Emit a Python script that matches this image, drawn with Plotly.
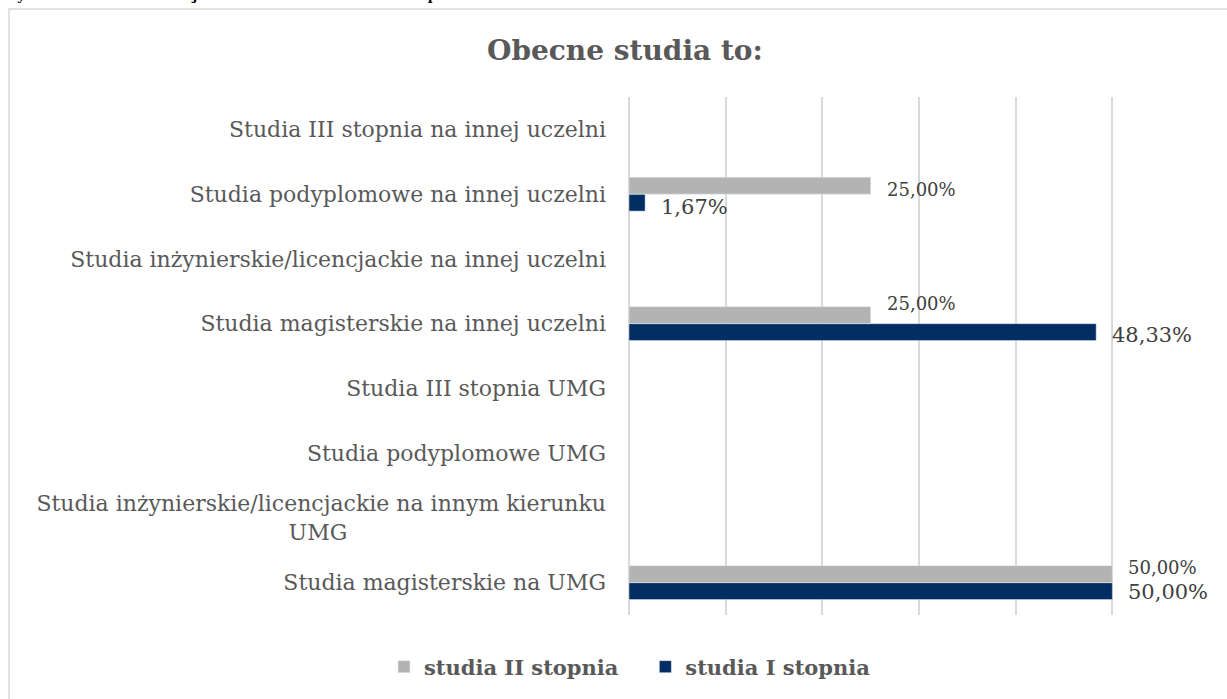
import plotly.graph_objects as go

# ---------------- data ----------------
NB = "\u00a0"
categories = [
    "Studia magisterskie na UMG",
    "Studia inżynierskie/licencjackie na innym kierunku<br>UMG" + NB * 37,
    "Studia podyplomowe UMG",
    "Studia III stopnia UMG",
    "Studia magisterskie na innej uczelni",
    "Studia inżynierskie/licencjackie na innej uczelni",
    "Studia podyplomowe na innej uczelni",
    "Studia III stopnia na innej uczelni",
]
series_II_name = "studia II stopnia"
series_I_name = "studia I stopnia"
values_II = [50.00, None, None, None, 25.00, None, 25.00, None]
values_I = [50.00, None, None, None, 48.33, None, 1.67, None]
x_ticks = [0, 10, 20, 30, 40, 50, 60]

# ---------------- style ----------------
GRAY = "#b3b3b3"
NAVY = "#002d62"
TEXT = "#595959"
LABEL = "#404040"
GRID = "#d9d9d9"
SERIF = "DejaVu Serif"

W, H = 1227, 699
L, R, T, B = 629, 18, 97, 84
PW, PH = W - L - R, H - T - B

def px_x(px):
    return (px - L) / PW

def px_y(py):
    return (H - B - py) / PH

fig = go.Figure()
fig.add_trace(go.Bar(
    y=categories, x=values_I, orientation="h", name=series_I_name,
    marker=dict(color=NAVY), legendrank=2, hoverinfo="skip",
))
fig.add_trace(go.Bar(
    y=categories, x=values_II, orientation="h", name=series_II_name + NB * 3,
    marker=dict(color=GRAY), legendrank=1, hoverinfo="skip",
))

def fmt(v):
    return f"{v:.2f}".replace(".", ",") + "%"

# data labels (offsets follow the reference's label placement)
shift_II = {0: 15, 4: 20, 6: 5}
shift_I = {0: -9, 4: -11, 6: -13}
annotations = []
for i, (c, v) in enumerate(zip(categories, values_II)):
    if v is not None:
        annotations.append(dict(
            x=v, y=c, xref="x", yref="y", text=fmt(v), showarrow=False,
            xanchor="left", yanchor="middle", xshift=14, yshift=shift_II.get(i, 12),
            font=dict(family=SERIF, size=18, color=LABEL),
        ))
for i, (c, v) in enumerate(zip(categories, values_I)):
    if v is not None:
        annotations.append(dict(
            x=v, y=c, xref="x", yref="y", text=fmt(v), showarrow=False,
            xanchor="left", yanchor="middle", xshift=14, yshift=shift_I.get(i, -10),
            font=dict(family=SERIF, size=21, color=LABEL),
        ))

# cropped caption at the very top (as in the reference)
annotations.append(dict(
    x=px_x(0), y=px_y(5), xref="paper", yref="paper",
    text="<b>Wykres 3.5 Dalsza edukacja absolwentów studiów I i II stopnia</b>",
    showarrow=False, xanchor="left", yanchor="bottom",
    font=dict(family=SERIF, size=13, color="#000000"),
))
# chart title
annotations.append(dict(
    x=px_x(625), y=px_y(50), xref="paper", yref="paper",
    text="<b>Obecne studia to:</b>", showarrow=False,
    xanchor="center", yanchor="middle",
    font=dict(family=SERIF, size=28, color=TEXT),
))

shapes = [dict(
    type="rect", xref="paper", yref="paper",
    x0=px_x(9), x1=px_x(1240), y0=px_y(720), y1=px_y(9),
    line=dict(color=GRID, width=1.5), fillcolor="rgba(0,0,0,0)", layer="below",
)]

fig.update_layout(
    width=W, height=H, autosize=False,
    margin=dict(l=L, r=R, t=T, b=B, pad=0),
    paper_bgcolor="white", plot_bgcolor="white",
    barmode="group", bargap=0.475, bargroupgap=0,
    showlegend=True,
    legend=dict(
        orientation="h", x=px_x(630), y=px_y(667), xanchor="center", yanchor="middle",
        font=dict(family=SERIF, size=21, color=TEXT, weight="bold"),
        itemwidth=30, tracegroupgap=0,
    ),
    xaxis=dict(
        range=[0, 60], tickvals=x_ticks, showticklabels=False,
        showgrid=True, gridcolor=GRID, gridwidth=1.5,
        zeroline=True, zerolinecolor=GRID, zerolinewidth=1.5,
        showline=False, fixedrange=True,
    ),
    yaxis=dict(
        type="category", categoryorder="array", categoryarray=categories,
        showgrid=False, zeroline=False, showline=False, ticks="",
        ticklabelstandoff=22,
        tickfont=dict(family=SERIF, size=22, color=TEXT),
        fixedrange=True,
    ),
    annotations=annotations,
    shapes=shapes,
)

fig.write_html(
    "out.html",
    config={"displayModeBar": False},
    post_script="document.body.style.margin='0';document.body.style.padding='0';",
)
